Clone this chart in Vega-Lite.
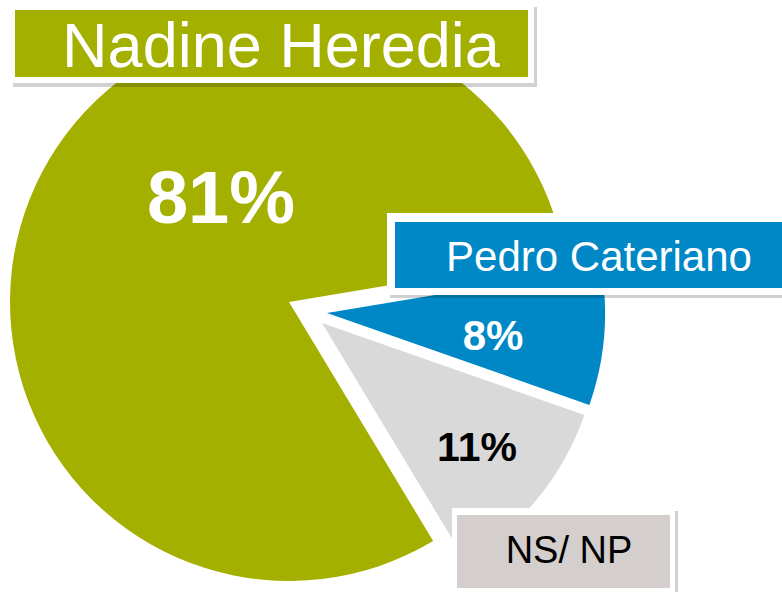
{
  "$schema": "https://vega.github.io/schema/vega-lite/v6.json",
  "width": 782,
  "height": 592,
  "autosize": {"type": "fit", "contains": "padding"},
  "padding": 0,
  "background": "white",
  "config": {"view": {"stroke": null}, "font": "Liberation Sans"},
  "data": {
    "values": [
      {"categoria": "Pedro Cateriano", "valor": 8, "orden": 1, "etiqueta": "8%"},
      {"categoria": "NS/ NP", "valor": 11, "orden": 2, "etiqueta": "11%"},
      {"categoria": "Nadine Heredia", "valor": 81, "orden": 3, "etiqueta": "81%"}
    ]
  },
  "transform": [
    {"stack": "valor", "groupby": [], "sort": [{"field": "orden", "order": "ascending"}], "as": ["v0", "v1"]}
  ],
  "layer": [
    {
      "transform": [{"filter": "datum.categoria == 'Nadine Heredia'"}],
      "mark": {"type": "arc", "x": 289, "y": 302, "outerRadius": 279, "color": "#a4b000"},
      "encoding": {
        "theta": {"field": "v0", "type": "quantitative", "scale": {"domain": [0, 100], "range": [1.405, 7.688]}},
        "theta2": {"field": "v1"}
      }
    },
    {
      "transform": [{"filter": "datum.categoria == 'Pedro Cateriano'"}],
      "mark": {"type": "arc", "x": 327, "y": 313, "outerRadius": 278, "color": "#0088c6"},
      "encoding": {
        "theta": {"field": "v0", "type": "quantitative", "scale": {"domain": [0, 100], "range": [1.405, 7.688]}},
        "theta2": {"field": "v1"}
      }
    },
    {
      "transform": [{"filter": "datum.categoria == 'NS/ NP'"}],
      "mark": {"type": "arc", "x": 322, "y": 323, "outerRadius": 278, "color": "#d9d9d9"},
      "encoding": {
        "theta": {"field": "v0", "type": "quantitative", "scale": {"domain": [0, 100], "range": [1.405, 7.688]}},
        "theta2": {"field": "v1"}
      }
    },
    {
      "transform": [{"filter": "datum.categoria == 'Nadine Heredia'"}],
      "mark": {"type": "text", "x": 221, "y": 223, "align": "center", "baseline": "alphabetic", "fontSize": 74, "fontWeight": "bold", "color": "white"},
      "encoding": {"text": {"field": "etiqueta"}}
    },
    {
      "transform": [{"filter": "datum.categoria == 'Pedro Cateriano'"}],
      "mark": {"type": "text", "x": 493, "y": 350, "align": "center", "baseline": "alphabetic", "fontSize": 42, "fontWeight": "bold", "color": "white"},
      "encoding": {"text": {"field": "etiqueta"}}
    },
    {
      "transform": [{"filter": "datum.categoria == 'NS/ NP'"}],
      "mark": {"type": "text", "x": 477, "y": 461, "align": "center", "baseline": "alphabetic", "fontSize": 41, "fontWeight": "bold", "color": "black"},
      "encoding": {"text": {"field": "etiqueta"}}
    },
    {
      "transform": [{"filter": "datum.categoria == 'Nadine Heredia'"}],
      "mark": {"type": "rect", "x": 13, "x2": 537, "y": 7, "y2": 87, "color": "black", "opacity": 0.18},
      "encoding": {}
    },
    {
      "transform": [{"filter": "datum.categoria == 'Nadine Heredia'"}],
      "mark": {"type": "rect", "x": 10, "x2": 534, "y": 4, "y2": 83, "color": "white", "opacity": 1},
      "encoding": {}
    },
    {
      "transform": [{"filter": "datum.categoria == 'Nadine Heredia'"}],
      "mark": {"type": "rect", "x": 15, "x2": 528, "y": 10, "y2": 77, "color": "#a4b000", "opacity": 1},
      "encoding": {}
    },
    {
      "transform": [{"filter": "datum.categoria == 'Nadine Heredia'"}],
      "mark": {"type": "text", "x": 281, "y": 67, "align": "center", "baseline": "alphabetic", "fontSize": 63, "color": "white"},
      "encoding": {"text": {"field": "categoria"}}
    },
    {
      "transform": [{"filter": "datum.categoria == 'Pedro Cateriano'"}],
      "mark": {"type": "rect", "x": 390, "x2": 782, "y": 216, "y2": 298, "color": "black", "opacity": 0.18},
      "encoding": {}
    },
    {
      "transform": [{"filter": "datum.categoria == 'Pedro Cateriano'"}],
      "mark": {"type": "rect", "x": 387, "x2": 782, "y": 213, "y2": 295, "color": "white", "opacity": 1},
      "encoding": {}
    },
    {
      "transform": [{"filter": "datum.categoria == 'Pedro Cateriano'"}],
      "mark": {"type": "rect", "x": 395, "x2": 782, "y": 222, "y2": 288, "color": "#0088c6", "opacity": 1},
      "encoding": {}
    },
    {
      "transform": [{"filter": "datum.categoria == 'Pedro Cateriano'"}],
      "mark": {"type": "text", "x": 599, "y": 271, "align": "center", "baseline": "alphabetic", "fontSize": 42, "color": "white"},
      "encoding": {"text": {"field": "categoria"}}
    },
    {
      "transform": [{"filter": "datum.categoria == 'NS/ NP'"}],
      "mark": {"type": "rect", "x": 455, "x2": 678, "y": 511, "y2": 592, "color": "black", "opacity": 0.18},
      "encoding": {}
    },
    {
      "transform": [{"filter": "datum.categoria == 'NS/ NP'"}],
      "mark": {"type": "rect", "x": 452, "x2": 675, "y": 508, "y2": 592, "color": "white", "opacity": 1},
      "encoding": {}
    },
    {
      "transform": [{"filter": "datum.categoria == 'NS/ NP'"}],
      "mark": {"type": "rect", "x": 457, "x2": 670, "y": 515, "y2": 588, "color": "#d4cfcc", "opacity": 1},
      "encoding": {}
    },
    {
      "transform": [{"filter": "datum.categoria == 'NS/ NP'"}],
      "mark": {"type": "text", "x": 569, "y": 563, "align": "center", "baseline": "alphabetic", "fontSize": 38, "color": "black"},
      "encoding": {"text": {"field": "categoria"}}
    }
  ]
}
